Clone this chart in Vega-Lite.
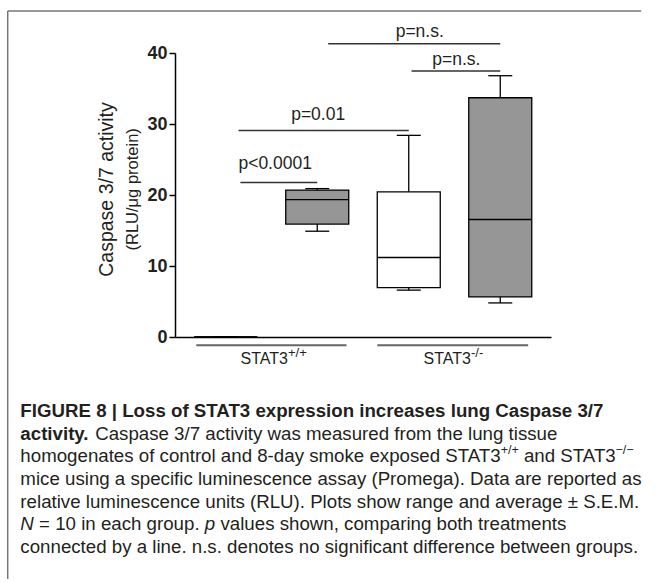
{
  "$schema": "https://vega.github.io/schema/vega-lite/v6.json",
  "padding": {"left": 6, "top": 10, "right": 0, "bottom": 0},
  "background": "white",
  "width": 376,
  "height": 284,
  "config": {"view": {"stroke": null}, "font": "Liberation Sans"},
  "datasets": {
    "boxes": [
      {"group": 1, "genotype": "STAT3+/+", "treatment": "control", "min": 0, "q1": 0, "median": 0, "q3": 0, "max": 0},
      {"group": 2, "genotype": "STAT3+/+", "treatment": "smoke", "min": 14.9, "q1": 15.9, "median": 19.35, "q3": 20.7, "max": 20.9},
      {"group": 3, "genotype": "STAT3-/-", "treatment": "control", "min": 6.6, "q1": 6.95, "median": 11.2, "q3": 20.45, "max": 28.4},
      {"group": 4, "genotype": "STAT3-/-", "treatment": "smoke", "min": 4.8, "q1": 5.65, "median": 16.55, "q3": 33.7, "max": 36.8}
    ],
    "pvalues": [
      {"label": "p<0.0001", "from": 1.16, "to": 2.0, "level": 21.75, "tx": 1.54, "ty": 23.6},
      {"label": "p=0.01", "from": 1.14, "to": 3.0, "level": 29.07, "tx": 2.01, "ty": 30.5},
      {"label": "p=n.s.", "from": 2.12, "to": 4.0, "level": 41.32, "tx": 3.12, "ty": 42.25},
      {"label": "p=n.s.", "from": 3.03, "to": 4.0, "level": 37.46, "tx": 3.52, "ty": 38.3}
    ],
    "genotypes": [
      {"genotype": "STAT3", "sup": "+/+", "from": 0.678, "to": 2.32, "labelAt": 1.68},
      {"genotype": "STAT3", "sup": "-/-", "from": 2.656, "to": 4.305, "labelAt": 3.68}
    ],
    "caption": [
      {"line": 1, "seg": "bold", "text": "FIGURE 8 | Loss of STAT3 expression increases lung Caspase 3/7"},
      {"line": 2, "seg": "bold", "text": "activity."},
      {"line": 2, "seg": "r2", "text": "Caspase 3/7 activity was measured from the lung tissue"},
      {"line": 3, "seg": "plain", "text": "homogenates of control and 8-day smoke exposed STAT3"},
      {"line": 3, "seg": "sup1", "text": "+/+"},
      {"line": 3, "seg": "r3", "text": "and STAT3"},
      {"line": 3, "seg": "sup2", "text": "−/−"},
      {"line": 4, "seg": "plain", "text": "mice using a specific luminescence assay (Promega). Data are reported as"},
      {"line": 5, "seg": "plain", "text": "relative luminescence units (RLU). Plots show range and average ± S.E.M."},
      {"line": 6, "seg": "it1", "text": "N"},
      {"line": 6, "seg": "r6a", "text": "= 10 in each group."},
      {"line": 6, "seg": "it2", "text": "p"},
      {"line": 6, "seg": "r6b", "text": "values shown, comparing both treatments"},
      {"line": 7, "seg": "plain", "text": "connected by a line. n.s. denotes no significant difference between groups."}
    ]
  },
  "resolve": {"scale": {"y": "independent"}},
  "layer": [
    {
      "layer": [
        {
          "data": {"values": [{}]},
          "mark": {"type": "rule", "color": "#777777", "strokeWidth": 1.5},
          "encoding": {"x": {"datum": -1.383}, "x2": {"datum": 5.54}, "y": {"datum": 45.9}}
        },
        {
          "data": {"values": [{}]},
          "mark": {"type": "rule", "color": "#777777", "strokeWidth": 1.5},
          "encoding": {"x": {"datum": -1.383}, "y": {"datum": 45.9}, "y2": {"datum": -34.1}}
        },
        {
          "data": {"name": "boxes"},
          "mark": {"type": "rule", "color": "black", "strokeWidth": 1.3},
          "encoding": {
            "x": {"field": "group", "type": "quantitative",
                  "scale": {"domain": [0.5, 4.5], "nice": false, "zero": false},
                  "axis": {"labels": false, "ticks": false, "grid": false, "title": null, "domain": true, "domainColor": "black", "domainWidth": 1.5}},
            "y": {"field": "min", "type": "quantitative",
                  "scale": {"domain": [0, 40], "nice": false},
                  "axis": {"values": [0, 10, 20, 30, 40], "grid": false, "title": "Caspase 3/7 activity",
                           "titleFontSize": 19.5, "titleFontWeight": "normal", "titleColor": "#231f20", "titlePadding": 30, "titleY": 136,
                           "labelFontSize": 18, "labelFontWeight": "bold", "labelColor": "#231f20", "labelPadding": 2,
                           "tickSize": 6, "tickColor": "black", "tickWidth": 1.5, "domainColor": "black", "domainWidth": 1.5}},
            "y2": {"field": "max"}
          }
        },
        {
          "data": {"name": "boxes"},
          "mark": {"type": "bar", "orient": "vertical", "size": 63, "stroke": "black", "strokeWidth": 1.3},
          "encoding": {
            "x": {"field": "group", "type": "quantitative"},
            "y": {"field": "q1", "type": "quantitative"},
            "y2": {"field": "q3"},
            "fill": {"field": "treatment", "type": "nominal", "scale": {"domain": ["control", "smoke"], "range": ["white", "#969696"]}, "legend": null}
          }
        },
        {
          "data": {"name": "boxes"},
          "mark": {"type": "tick", "orient": "horizontal", "size": 63, "thickness": 1.3, "color": "black", "opacity": 1},
          "encoding": {"x": {"field": "group", "type": "quantitative"}, "y": {"field": "median", "type": "quantitative"}}
        },
        {
          "data": {"name": "boxes"},
          "mark": {"type": "tick", "orient": "horizontal", "size": 24, "thickness": 1.3, "color": "black", "opacity": 1},
          "encoding": {"x": {"field": "group", "type": "quantitative"}, "y": {"field": "min", "type": "quantitative"}}
        },
        {
          "data": {"name": "boxes"},
          "mark": {"type": "tick", "orient": "horizontal", "size": 24, "thickness": 1.3, "color": "black", "opacity": 1},
          "encoding": {"x": {"field": "group", "type": "quantitative"}, "y": {"field": "max", "type": "quantitative"}}
        },
        {
          "data": {"name": "pvalues"},
          "mark": {"type": "rule", "color": "#333333", "strokeWidth": 1.5},
          "encoding": {"x": {"field": "from", "type": "quantitative"}, "x2": {"field": "to"}, "y": {"field": "level", "type": "quantitative"}}
        },
        {
          "data": {"name": "pvalues"},
          "mark": {"type": "text", "fontSize": 17.5, "color": "#231f20", "align": "center", "baseline": "alphabetic"},
          "encoding": {"x": {"field": "tx", "type": "quantitative"}, "y": {"field": "ty", "type": "quantitative"}, "text": {"field": "label"}}
        },
        {
          "data": {"name": "genotypes"},
          "mark": {"type": "rule", "color": "#666666", "strokeWidth": 2},
          "encoding": {"x": {"field": "from", "type": "quantitative"}, "x2": {"field": "to"}, "y": {"datum": -1.17}}
        },
        {
          "data": {"name": "genotypes"},
          "mark": {"type": "text", "fontSize": 16, "color": "#231f20", "align": "right", "baseline": "middle"},
          "encoding": {"x": {"field": "labelAt", "type": "quantitative"}, "y": {"datum": -3.13}, "text": {"field": "genotype"}}
        },
        {
          "data": {"name": "genotypes"},
          "mark": {"type": "text", "fontSize": 13, "color": "#231f20", "align": "left", "baseline": "middle", "dy": -6},
          "encoding": {"x": {"field": "labelAt", "type": "quantitative"}, "y": {"datum": -3.13}, "text": {"field": "sup"}}
        },
        {
          "data": {"values": [{"subtitle": "(RLU/μg protein)"}]},
          "mark": {"type": "text", "fontSize": 16.5, "color": "#231f20", "align": "center", "baseline": "middle", "angle": 270},
          "encoding": {"x": {"datum": -0.0106}, "y": {"datum": 20.8}, "text": {"field": "subtitle"}}
        }
      ]
    },
    {
      "data": {"name": "caption"},
      "encoding": {
        "x": {"datum": -1.2447},
        "y": {"field": "line", "type": "quantitative", "scale": {"domain": [1, 7], "range": [358, 494]}, "axis": null},
        "text": {"field": "text"}
      },
      "layer": [
        {"transform": [{"filter": "datum.seg === 'bold'"}],
         "mark": {"type": "text", "fontSize": 18.7, "fontWeight": "bold", "color": "#231f20", "align": "left", "baseline": "middle"}},
        {"transform": [{"filter": "datum.seg === 'plain'"}],
         "mark": {"type": "text", "fontSize": 18.7, "color": "#231f20", "align": "left", "baseline": "middle"}},
        {"transform": [{"filter": "datum.seg === 'r2'"}],
         "mark": {"type": "text", "fontSize": 18.7, "color": "#231f20", "align": "left", "baseline": "middle", "dx": 74.8}},
        {"transform": [{"filter": "datum.seg === 'sup1'"}],
         "mark": {"type": "text", "fontSize": 12.5, "color": "#231f20", "align": "left", "baseline": "middle", "dx": 480.3, "dy": -6.5}},
        {"transform": [{"filter": "datum.seg === 'r3'"}],
         "mark": {"type": "text", "fontSize": 18.7, "color": "#231f20", "align": "left", "baseline": "middle", "dx": 503.6}},
        {"transform": [{"filter": "datum.seg === 'sup2'"}],
         "mark": {"type": "text", "fontSize": 12.5, "color": "#231f20", "align": "left", "baseline": "middle", "dx": 595.2, "dy": -6.5}},
        {"transform": [{"filter": "datum.seg === 'it1'"}],
         "mark": {"type": "text", "fontSize": 18.7, "fontStyle": "italic", "color": "#231f20", "align": "left", "baseline": "middle"}},
        {"transform": [{"filter": "datum.seg === 'r6a'"}],
         "mark": {"type": "text", "fontSize": 18.7, "color": "#231f20", "align": "left", "baseline": "middle", "dx": 18.7}},
        {"transform": [{"filter": "datum.seg === 'it2'"}],
         "mark": {"type": "text", "fontSize": 18.7, "fontStyle": "italic", "color": "#231f20", "align": "left", "baseline": "middle", "dx": 184.5}},
        {"transform": [{"filter": "datum.seg === 'r6b'"}],
         "mark": {"type": "text", "fontSize": 18.7, "color": "#231f20", "align": "left", "baseline": "middle", "dx": 200.1}}
      ]
    }
  ]
}
